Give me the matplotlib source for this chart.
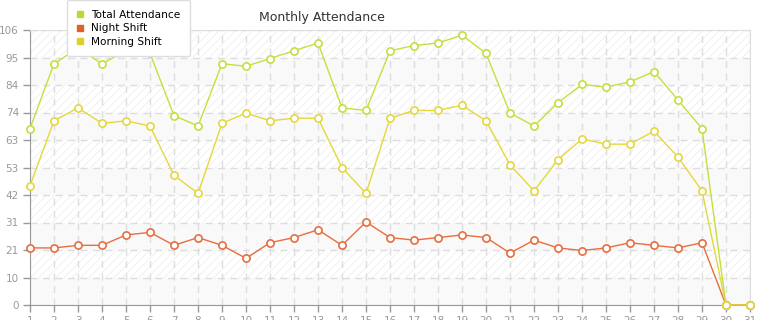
import matplotlib
matplotlib.use("Agg")
import matplotlib.pyplot as plt
from matplotlib.lines import Line2D

# =========================
# data
# =========================
days = list(range(1, 32))
total_attendance = [68, 93, 99, 93, 98, 97, 73, 69, 93, 92, 95, 98, 101, 76, 75, 98,
                    100, 101, 104, 97, 74, 69, 78, 85, 84, 86, 90, 79, 68, 0, 0]
night_shift = [22, 22, 23, 23, 27, 28, 23, 26, 23, 18, 24, 26, 29, 23, 32, 26,
               25, 26, 27, 26, 20, 25, 22, 21, 22, 24, 23, 22, 24, 0, 0]
morning_shift = [46, 71, 76, 70, 71, 69, 50, 43, 70, 74, 71, 72, 72, 53, 43, 72,
                 75, 75, 77, 71, 54, 44, 56, 64, 62, 62, 67, 57, 44, 0, 0]
y_max = 106
y_ticks = [i * y_max / 10 for i in range(11)]
y_labels = [str(int(t)) for t in y_ticks]

series = [
    ("Total Attendance", total_attendance, "#c6df3e", "#bcd834"),
    ("Night Shift", night_shift, "#e86d3f", "#e0602a"),
    ("Morning Shift", morning_shift, "#e4d83c", "#ddd02c"),
]

# =========================
# figure
# =========================
plt.rcParams["hatch.linewidth"] = 0.6
fig = plt.figure(figsize=(7.65, 3.2), dpi=100)
ax = fig.add_axes([30 / 765, 15 / 320, 720 / 765, 275 / 320])

# alternating background bands
for i in range(10):
    lo, hi = y_ticks[i], y_ticks[i + 1]
    if i % 2 == 0:
        ax.axhspan(lo, hi, facecolor="#f9f9f9", edgecolor="none", zorder=0)
    else:
        ax.axhspan(lo, hi, facecolor="white", edgecolor="#eeeeee", hatch="////",
                   linewidth=0, zorder=0)

for lab, vals, col, _ in series:
    ax.plot(days, vals, color=col, linewidth=1, marker="o", markersize=5.2,
            markerfacecolor="white", markeredgecolor=col, markeredgewidth=1.2,
            zorder=3, clip_on=False)

ax.set_xlim(1, 31)
ax.set_ylim(0, y_max)
ax.set_xticks(days)
ax.set_yticks(y_ticks)
ax.set_yticklabels(y_labels)
ax.grid(True, color="#dddddd", linestyle=(0, (5, 4)), linewidth=1)
ax.set_axisbelow(True)

ax.tick_params(axis="both", colors="#999999", labelcolor="#999999", labelsize=7.5,
               length=5, width=1, pad=3)
for side in ["left", "bottom"]:
    ax.spines[side].set_color("#999999")
for side in ["top", "right"]:
    ax.spines[side].set_color("#dddddd")

fig.text(322 / 765, 1 - 17 / 320, "Monthly Attendance", ha="center", va="center",
         fontsize=9, color="#333333")

handles = [Line2D([0], [0], marker="s", linestyle="none", markersize=4,
                  markerfacecolor=lc, markeredgecolor=lc) for _, _, _, lc in series]
leg = fig.legend(handles, [s[0] for s in series], loc="upper left",
                 bbox_to_anchor=(67 / 765, 1.0), bbox_transform=fig.transFigure,
                 fontsize=7.6, frameon=True, fancybox=True, handlelength=0.7,
                 handletextpad=0.7, labelspacing=0.35, borderpad=0.9,
                 borderaxespad=0)
leg.get_frame().set_edgecolor("#dddddd")
leg.get_frame().set_facecolor("white")
leg.get_frame().set_alpha(1)
leg.set_zorder(10)

fig.savefig("out.png", dpi=100)
